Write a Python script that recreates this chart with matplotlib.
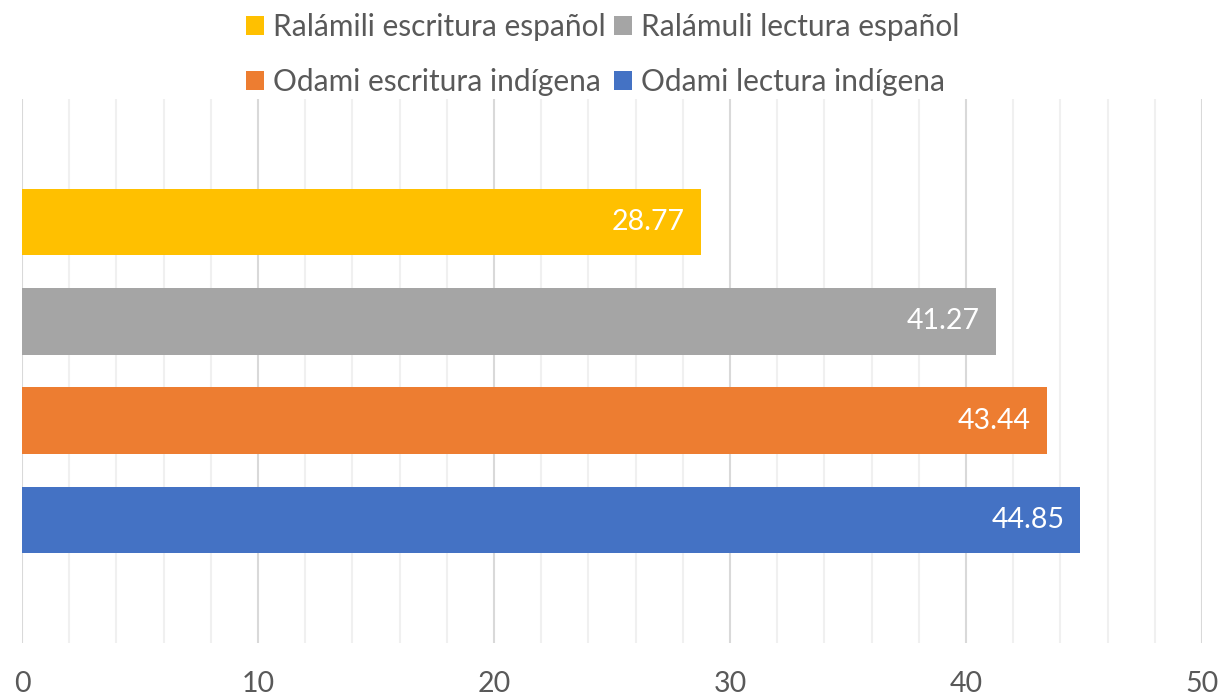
import matplotlib
matplotlib.use("Agg")
import matplotlib.pyplot as plt
import numpy as np

categories = ["Ralámili escritura español", "Ralámuli lectura español",
              "Odami escritura indígena", "Odami lectura indígena"]
values = [28.77, 41.27, 43.44, 44.85]
colors = ["#FFC000", "#A5A5A5", "#ED7D31", "#4472C4"]
xticks = [0, 10, 20, 30, 40, 50]

plt.rcParams['font.family'] = ['Lato', 'DejaVu Sans']
FS = 20.5

fig = plt.figure(figsize=(12.25, 6.99), dpi=100)
ax = fig.add_axes([22/1225, 1 - 643/699, (1202-22)/1225, (643-99)/699])

ypos = [3, 2, 1, 0]
bars = []
for y, v, c, lab in zip(ypos, values, colors, categories):
    b = ax.barh(y, v, height=0.67, color=c, label=lab, zorder=3)
    bars.append(b)
    ax.text(v - 0.68, y, f"{v:.2f}", ha='right', va='center', color='white',
            fontsize=FS, zorder=4)

ax.set_xlim(0, 50)
ax.set_ylim(-1.236, 4.236)
ax.set_xticks(xticks)
ax.set_xticks(np.arange(0, 51, 2), minor=True)
ax.grid(axis='x', which='major', color='#D9D9D9', linewidth=1.5, zorder=0)
ax.grid(axis='x', which='minor', color='#F0F0F0', linewidth=1.5, zorder=0)
ax.set_yticks([])
for s in ax.spines.values():
    s.set_visible(False)
ax.tick_params(axis='x', which='both', length=0, labelsize=FS, labelcolor='#595959', pad=20)

order = [0, 2, 1, 3]
handles = [bars[i] for i in order]
labels = [categories[i] for i in order]
fig.legend(handles, labels, ncol=2, loc='upper center', bbox_to_anchor=(0.492, 1.02),
           frameon=False, fontsize=21.5, labelcolor='#595959', handlelength=0.6,
           handleheight=0.6, handletextpad=0.3, columnspacing=0.3, labelspacing=0.9)

fig.savefig("out.png", dpi=100)
